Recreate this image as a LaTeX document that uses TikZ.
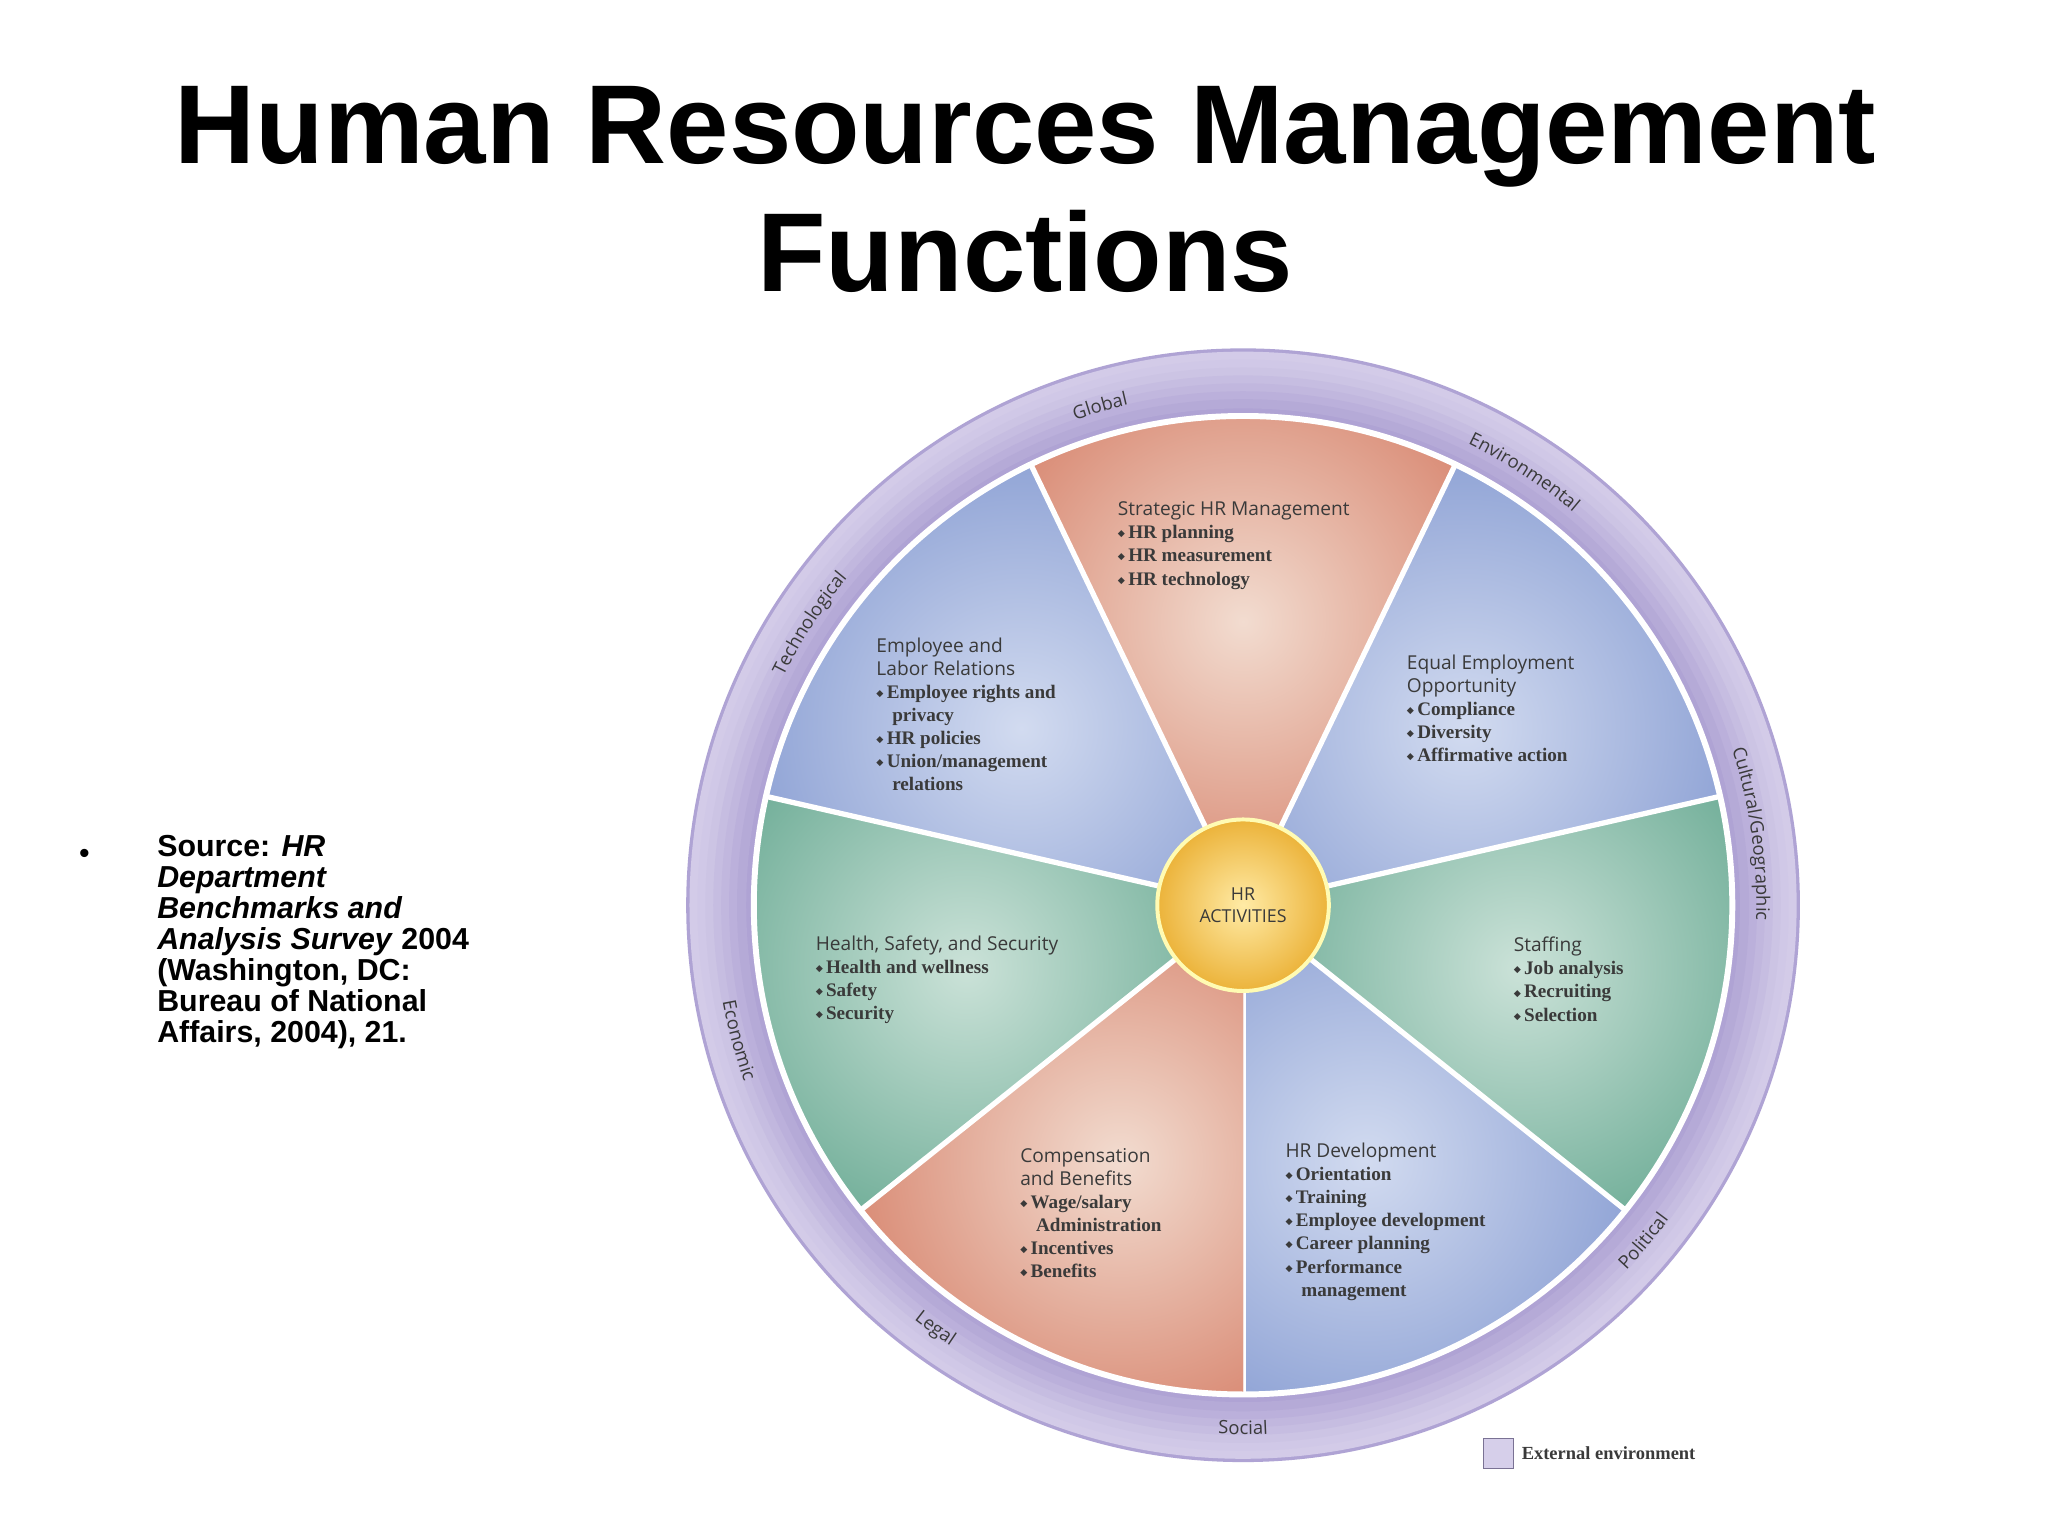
\documentclass[tikz,border=0pt]{standalone}
\usepackage{fontspec}
\setmainfont{Liberation Sans}
\newfontfamily\hd{Open Sans}
\newfontfamily\bd{Liberation Serif}
\newfontfamily\dv{DejaVu Sans}
\usetikzlibrary{decorations.text,calc}
\definecolor{orD}{HTML}{D47A62}\definecolor{orL}{HTML}{F2DCD0}
\definecolor{blD}{HTML}{8298D0}\definecolor{blL}{HTML}{D2DBF0}
\definecolor{grD}{HTML}{5FA48C}\definecolor{grL}{HTML}{CBE2D8}
\definecolor{ringD}{HTML}{AFA3D4}\definecolor{ringL}{HTML}{D6CFEA}
\definecolor{txt}{HTML}{3A3A3A}
\newcommand\bi{{\dv\fontsize{7}{7}\selectfont\raisebox{1.5pt}{◆}}\,}
\newcommand\hdg[1]{{\hd\mdseries #1}}
\tikzset{sect/.style={anchor=north west,align=left,inner sep=0pt,text=txt,
  font=\bd\bfseries\fontsize{14.5}{17.5}\selectfont},
  rlab/.style={decorate,decoration={text along path,text align=center,
  text={|\hd\fontsize{14}{14}\selectfont\color{txt}|#1}}}}
\begin{document}
\begin{tikzpicture}[x=1pt,y=1pt]
\useasboundingbox (0,0) rectangle (1552,1164);
\fill[white] (0,0) rectangle (1552,1164);
\begin{scope}[shift={(-8,4)}]
\coordinate (C) at (950,474);
% title
\node[anchor=base,font=\bfseries\fontsize{85}{85}\selectfont] (t1) at (785,1036) {Human Resources Management};
\node[anchor=base,font=\bfseries\fontsize{85}{85}\selectfont] (t2) at (785,939) {Functions};
% source
\node[anchor=base,font=\fontsize{23}{23}\selectfont] (bul) at (72,506) {•};
\node[anchor=north west,align=left,inner sep=0pt,font=\bfseries\fontsize{23}{23.5}\selectfont] (src) at (127,527)
 {Source: \textit{HR}\\ \textit{Department}\\ \textit{Benchmarks and}\\ \textit{Analysis Survey} 2004\\ (Washington, DC:\\ Bureau of National\\ Affairs, 2004), 21.};
% ring
\fill[ringD] (C) circle (422);
\foreach \r/\c in {416/8,410/16,404/26,398/40,392/55,386/70,380/85}{\draw[ringD!\c!ringL,line width=7pt] (C) circle (\r);}
\fill[white] (C) circle (373);
% sectors
\foreach \a/\d/\l in {-90/blD/blL,-38.571/grD/grL,12.857/blD/blL,64.286/orD/orL,115.714/blD/blL,167.143/grD/grL,218.571/orD/orL}{
 \begin{scope}
  \clip (C) -- ++(\a:369) arc[start angle=\a,end angle=\a+51.4286,radius=369] -- cycle;
  \fill[\d] (C) circle (370);
  \shade[inner color=\l,outer color=\d] ($(C)+(\a+25.714:215)$) circle (250);
 \end{scope}
 \draw[white,line width=4pt] (C) -- ++(\a:371);
}
\draw[white,line width=3pt] (C) circle (370);
% center
\shade[inner color=yellow!55!orange!35!white,outer color={rgb,255:red,236;green,180;blue,60}] (C) circle (64);
\draw[white!70!yellow,line width=3pt] (C) circle (65);
\node[align=center,font=\hd\fontsize{13.5}{16}\selectfont,text=txt] (hr) at (C) {HR\\ACTIVITIES};
% ring labels
\path[rlab=Global] (C) ++(121:389) arc[start angle=121,end angle=91,radius=389];
\path[rlab=Environmental] (C) ++(78:389) arc[start angle=78,end angle=36,radius=389];
\path[rlab=Cultural/Geographic] (C) ++(34:389) arc[start angle=34,end angle=-18,radius=389];
\path[rlab=Technological] (C) ++(170:389) arc[start angle=170,end angle=124,radius=389];
\path[rlab=Political] (C) ++(-60:401) arc[start angle=-60,end angle=-20,radius=401];
\path[rlab=Social] (C) ++(-105:401) arc[start angle=-105,end angle=-75,radius=401];
\path[rlab=Legal] (C) ++(-141:401) arc[start angle=-141,end angle=-111,radius=401];
\path[rlab=Economic] (C) ++(-185:401) arc[start angle=-185,end angle=-145,radius=401];
% sector texts
\node[sect] (s1) at (855,780) {\hdg{Strategic HR Management}\\ \bi HR planning\\ \bi HR measurement\\ \bi HR technology};
\node[sect] (s2) at (672,677) {\hdg{Employee and}\\ \hdg{Labor Relations}\\ \bi Employee rights and\\ \hspace{12pt}privacy\\ \bi HR policies\\ \bi Union/management\\ \hspace{12pt}relations};
\node[sect] (s3) at (1074,664) {\hdg{Equal Employment}\\ \hdg{Opportunity}\\ \bi Compliance\\ \bi Diversity\\ \bi Affirmative action};
\node[sect] (s4) at (626,451) {\hdg{Health, Safety, and Security}\\ \bi Health and wellness\\ \bi Safety\\ \bi Security};
\node[sect] (s5) at (1155,450) {\hdg{Staffing}\\ \bi Job analysis\\ \bi Recruiting\\ \bi Selection};
\node[sect] (s6) at (781,290) {\hdg{Compensation}\\ \hdg{and Benefits}\\ \bi Wage/salary\\ \hspace{12pt}Administration\\ \bi Incentives\\ \bi Benefits};
\node[sect] (s7) at (982,294) {\hdg{HR Development}\\ \bi Orientation\\ \bi Training\\ \bi Employee development\\ \bi Career planning\\ \bi Performance\\ \hspace{12pt}management};
% legend
\draw[ringD!70!black,fill=ringL] (1132,47) rectangle (1155,70);
\node[anchor=west,inner sep=0pt,text=txt,font=\bd\bfseries\fontsize{14}{14}\selectfont] (lg) at (1161,59) {External environment};
\end{scope}
\end{tikzpicture}
\end{document}
